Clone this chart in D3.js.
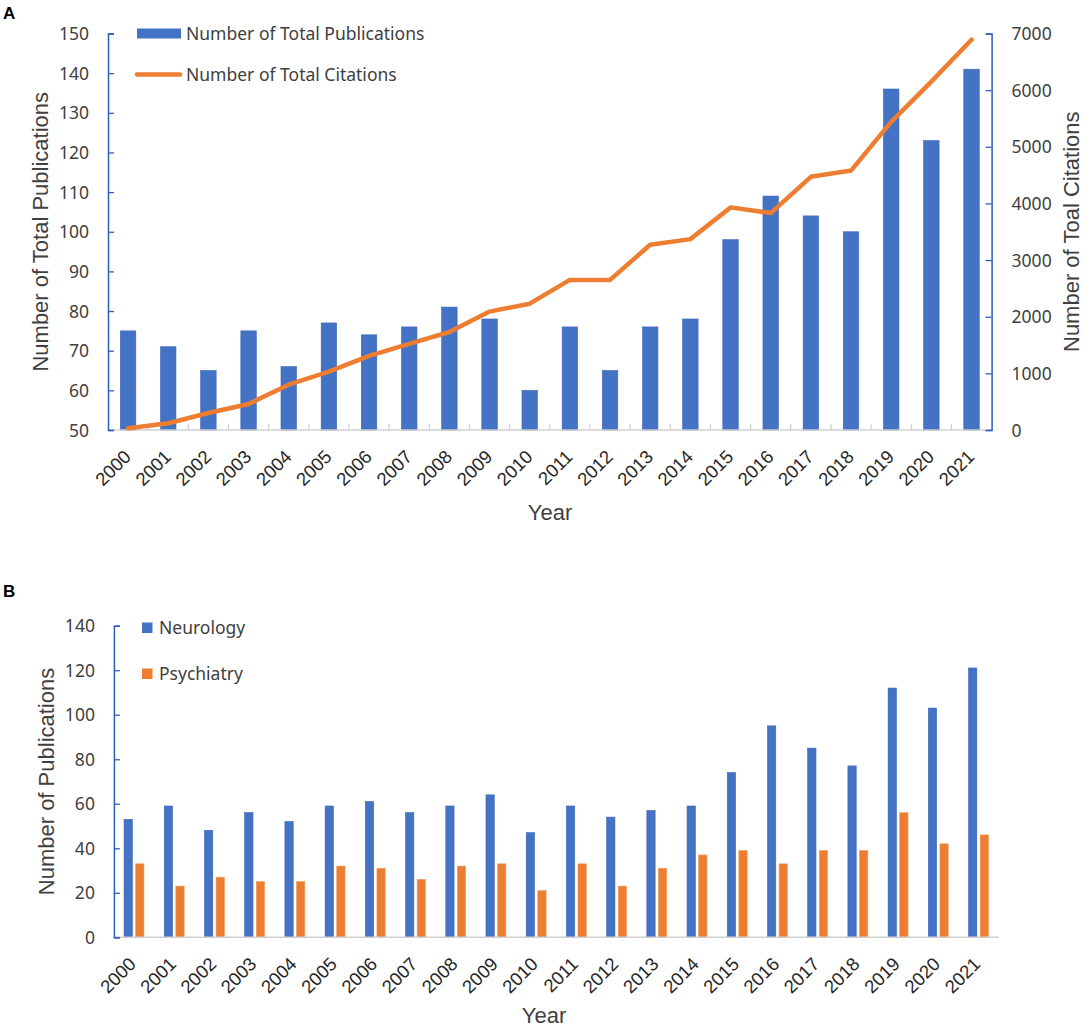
<!DOCTYPE html>
<html>
<head>
<meta charset="utf-8">
<script src="https://cdn.jsdelivr.net/npm/d3@7"></script>
<style>
  body { margin: 0; background: #fff; }
  svg { display: block; }
  .tick-label { font-family: 'Noto Sans', sans-serif; font-size: 17.5px; fill: #404040; }
  .title { font-family: 'Liberation Sans', Arial, sans-serif; font-size: 22px; fill: #404040; }
  .year { font-family: 'Liberation Sans', Arial, sans-serif; font-size: 18.5px; fill: #262626; }
  .legend { font-family: 'Noto Sans', sans-serif; font-size: 17.5px; fill: #404040; }
  .panel { font-family: 'Liberation Sans', Arial, sans-serif; font-size: 17px; font-weight: bold; fill: #000; }
</style>
</head>
<body>
<svg id="chart" width="1084" height="1029"></svg>
<script>
// data
const years = ['2000','2001','2002','2003','2004','2005','2006','2007','2008','2009','2010',
  '2011','2012','2013','2014','2015','2016','2017','2018','2019','2020','2021'];
const totalPublications = [75, 71, 65, 75, 66, 77, 74, 76, 81, 78, 60,
  76, 65, 76, 78, 98, 109, 104, 100, 136, 123, 141];
const totalCitations = [30, 120, 300, 460, 800, 1030, 1310, 1520, 1730, 2090, 2230,
  2650, 2650, 3270, 3370, 3930, 3830, 4470, 4580, 5440, 6150, 6890];
const neurology = [53, 59, 48, 56, 52, 59, 61, 56, 59, 64, 47,
  59, 54, 57, 59, 74, 95, 85, 77, 112, 103, 121];
const psychiatry = [33, 23, 27, 25, 25, 32, 31, 26, 32, 33, 21,
  33, 23, 31, 37, 39, 33, 39, 39, 56, 42, 46];
const leftTicksA = [50, 60, 70, 80, 90, 100, 110, 120, 130, 140, 150];
const rightTicksA = [0, 1000, 2000, 3000, 4000, 5000, 6000, 7000];
const ticksB = [0, 20, 40, 60, 80, 100, 120, 140];
const seriesB = ['Neurology', 'Psychiatry'];

const blue = '#4472C4';
const orange = '#ED7D31';
const axisBlue = '#2F5EBF';
const axisGray = '#D0D0D0';

const svg = d3.select('#chart');

// ---------- panel A ----------
const A = { left: 108, right: 991.6, top: 33.5, bottom: 430 };

const xA = d3.scaleBand()
  .domain(years)
  .range([A.left, A.right])
  .paddingInner(0.615)
  .paddingOuter(0.3075);
const xCat = d3.scaleBand().domain(years).range([A.left, A.right]);

const yA = d3.scaleLinear().domain([50, 150]).range([A.bottom, A.top]);
const yA2 = d3.scaleLinear().domain([0, 7000]).range([A.bottom, A.top]);

svg.append('text').attr('class', 'panel').attr('x', 3).attr('y', 19).text('A');

// bars
svg.append('g')
  .selectAll('rect')
  .data(years)
  .join('rect')
  .attr('x', (d) => xA(d))
  .attr('width', xA.bandwidth())
  .attr('y', (d, i) => yA(totalPublications[i]))
  .attr('height', (d, i) => yA(50) - yA(totalPublications[i]))
  .attr('fill', blue)
  .attr('stroke', '#3A66B8')
  .attr('stroke-width', 0.6);

// x axis (gray, ticks up at category boundaries)
const xAxisA = svg.append('g').attr('transform', `translate(0,${A.bottom})`);
xAxisA.append('line')
  .attr('x1', A.left).attr('x2', A.right)
  .attr('stroke', axisGray).attr('stroke-width', 1.5);
xAxisA.selectAll('.bound')
  .data(years.slice(1))
  .join('line')
  .attr('x1', (d) => xCat(d)).attr('x2', (d) => xCat(d))
  .attr('y1', 0).attr('y2', -6)
  .attr('stroke', axisGray).attr('stroke-width', 1.2);
xAxisA.selectAll('text')
  .data(years)
  .join('text')
  .attr('class', 'year')
  .attr('text-anchor', 'end')
  .attr('transform', (d) => `translate(${xCat(d) + xCat.bandwidth() / 2 + 4},28) rotate(-45)`)
  .text((d) => d);

// left axis
const yAxisA = svg.append('g')
  .attr('transform', `translate(${A.left},0)`)
  .call(d3.axisRight(yA).tickValues(leftTicksA).tickSize(6).tickFormat(d3.format('d')));
yAxisA.select('.domain').attr('stroke', axisBlue).attr('stroke-width', 1.5);
yAxisA.selectAll('.tick line').attr('stroke', axisBlue).attr('stroke-width', 1.3);
yAxisA.selectAll('.tick text')
  .attr('class', 'tick-label')
  .attr('x', -19)
  .attr('text-anchor', 'end')
  .attr('dy', '0.35em');

// right axis
const yAxisA2 = svg.append('g')
  .attr('transform', `translate(${A.right},0)`)
  .call(d3.axisLeft(yA2).tickValues(rightTicksA).tickSize(6).tickFormat(d3.format('d')));
yAxisA2.select('.domain').attr('stroke', axisBlue).attr('stroke-width', 1.5);
yAxisA2.selectAll('.tick line').attr('stroke', axisBlue).attr('stroke-width', 1.3);
yAxisA2.selectAll('.tick text')
  .attr('class', 'tick-label')
  .attr('x', 20)
  .attr('text-anchor', 'start')
  .attr('dy', '0.35em');

// citations line
const line = d3.line()
  .x((d, i) => xA(years[i]) + xA.bandwidth() / 2)
  .y((d) => yA2(d));
svg.append('path')
  .datum(totalCitations)
  .attr('d', line)
  .attr('fill', 'none')
  .attr('stroke', orange)
  .attr('stroke-width', 4.5)
  .attr('stroke-linejoin', 'round')
  .attr('stroke-linecap', 'round');

// axis titles A
const midA = (A.top + A.bottom) / 2;
svg.append('text').attr('class', 'title')
  .attr('text-anchor', 'middle')
  .attr('transform', `translate(48,${midA}) rotate(-90)`)
  .text('Number of Total Publications');
svg.append('text').attr('class', 'title')
  .attr('text-anchor', 'middle')
  .attr('transform', `translate(1079,${midA}) rotate(-90)`)
  .text('Number of Toal Citations');
svg.append('text').attr('class', 'title')
  .attr('text-anchor', 'middle')
  .attr('x', 550).attr('y', 520)
  .text('Year');

// legend A
svg.append('rect')
  .attr('x', 137).attr('y', 28.5).attr('width', 44).attr('height', 10)
  .attr('fill', blue);
svg.append('text').attr('class', 'legend')
  .attr('x', 186).attr('y', 33.5).attr('dy', '0.35em')
  .text('Number of Total Publications');
svg.append('line')
  .attr('x1', 137).attr('x2', 180).attr('y1', 74.5).attr('y2', 74.5)
  .attr('stroke', orange).attr('stroke-width', 4.5).attr('stroke-linecap', 'round');
svg.append('text').attr('class', 'legend')
  .attr('x', 186).attr('y', 75).attr('dy', '0.35em')
  .text('Number of Total Citations');

// ---------- panel B ----------
const B = { left: 113.9, right: 998.6, top: 625.7, bottom: 937.3 };

svg.append('text').attr('class', 'panel').attr('x', 3).attr('y', 597).text('B');

const x0 = d3.scaleBand().domain(years).range([B.left, B.right]);
const groupW = 19.9;
const x1 = d3.scaleBand()
  .domain(seriesB)
  .range([(x0.bandwidth() - groupW) / 2, (x0.bandwidth() + groupW) / 2])
  .paddingInner(0.284);
const yB = d3.scaleLinear().domain([0, 140]).range([B.bottom, B.top]);
const colorB = d3.scaleOrdinal().domain(seriesB).range([blue, orange]);

const rowsB = years.map((y, i) => ({ year: y, values: [neurology[i], psychiatry[i]] }));

svg.append('g')
  .selectAll('g')
  .data(rowsB)
  .join('g')
  .attr('transform', (d) => `translate(${x0(d.year)},0)`)
  .selectAll('rect')
  .data((d) => d.values.map((v, k) => ({ key: seriesB[k], value: v })))
  .join('rect')
  .attr('x', (d) => x1(d.key))
  .attr('width', x1.bandwidth())
  .attr('y', (d) => yB(d.value))
  .attr('height', (d) => yB(0) - yB(d.value))
  .attr('fill', (d) => colorB(d.key))
  .attr('stroke', (d) => d.key === 'Neurology' ? '#3A66B8' : '#F29A5C')
  .attr('stroke-width', 0.6);

const xAxisB = svg.append('g').attr('transform', `translate(0,${B.bottom})`);
xAxisB.append('line')
  .attr('x1', B.left).attr('x2', B.right)
  .attr('stroke', axisGray).attr('stroke-width', 1.5);
xAxisB.selectAll('text')
  .data(years)
  .join('text')
  .attr('class', 'year')
  .attr('text-anchor', 'end')
  .attr('transform', (d) => `translate(${x0(d) + x0.bandwidth() / 2 + 3},28) rotate(-45)`)
  .text((d) => d);

const yAxisB = svg.append('g')
  .attr('transform', `translate(${B.left},0)`)
  .call(d3.axisRight(yB).tickValues(ticksB).tickSize(6).tickFormat(d3.format('d')));
yAxisB.select('.domain').attr('stroke', axisBlue).attr('stroke-width', 1.5);
yAxisB.selectAll('.tick line').attr('stroke', axisBlue).attr('stroke-width', 1.3);
yAxisB.selectAll('.tick text')
  .attr('class', 'tick-label')
  .attr('x', -19)
  .attr('text-anchor', 'end')
  .attr('dy', '0.35em');

svg.append('text').attr('class', 'title')
  .attr('text-anchor', 'middle')
  .attr('transform', `translate(54,${(B.top + B.bottom) / 2}) rotate(-90)`)
  .text('Number of Publications');
svg.append('text').attr('class', 'title')
  .attr('text-anchor', 'middle')
  .attr('x', 544).attr('y', 1023)
  .text('Year');

// legend B
const legB = svg.append('g')
  .selectAll('g')
  .data(seriesB)
  .join('g')
  .attr('transform', (d, i) => `translate(142,${628 + i * 46})`);
legB.append('rect')
  .attr('x', 0).attr('y', -5.5).attr('width', 10.5).attr('height', 10.5)
  .attr('fill', (d) => colorB(d));
legB.append('text').attr('class', 'legend')
  .attr('x', 17).attr('y', 0).attr('dy', '0.35em')
  .text((d) => d);
</script>
</body>
</html>
